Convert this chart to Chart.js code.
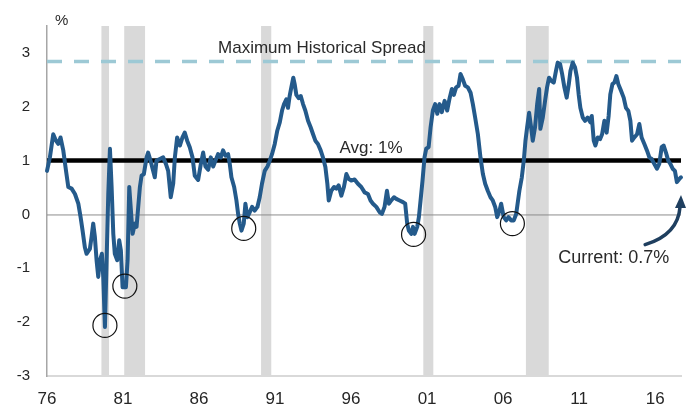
<!DOCTYPE html>
<html>
<head>
<meta charset="utf-8">
<script src="https://cdn.jsdelivr.net/npm/chart.js@4.4.1/dist/chart.umd.min.js"></script>
<style>
  html, body { margin: 0; padding: 0; background: #fff; }
  #wrap { width: 698px; height: 410px; }
</style>
</head>
<body>
<div id="wrap"><canvas id="myChart" width="698" height="410"></canvas></div>
<script>
// 10y-2y spread (decimal years)
const dates = [
  1976.42, 1976.61, 1976.83, 1977.01, 1977.16, 1977.31, 1977.49, 1977.67, 1977.82, 1978.04,
  1978.26, 1978.48, 1978.63, 1978.76, 1978.91, 1979.02, 1979.24, 1979.35, 1979.46, 1979.57,
  1979.68, 1979.79, 1979.90, 1980.03, 1980.12, 1980.23, 1980.34, 1980.45, 1980.56, 1980.67,
  1980.78, 1980.88, 1981.04, 1981.17, 1981.28, 1981.39, 1981.61, 1981.72, 1981.83, 1981.94,
  1982.05, 1982.20, 1982.31, 1982.42, 1982.53, 1982.64, 1982.79, 1982.97, 1983.07, 1983.23,
  1983.40, 1983.51, 1983.62, 1983.84, 1984.06, 1984.24, 1984.39, 1984.56, 1984.72, 1984.83,
  1984.98, 1985.16, 1985.33, 1985.48, 1985.64, 1985.81, 1985.99, 1986.14, 1986.36, 1986.54,
  1986.69, 1986.84, 1987.02, 1987.19, 1987.35, 1987.50, 1987.67, 1987.85, 1988.00, 1988.16,
  1988.33, 1988.44, 1988.55, 1988.73, 1988.88, 1988.99, 1989.10, 1989.21, 1989.36, 1989.47,
  1989.60, 1989.75, 1989.91, 1990.08, 1990.26, 1990.41, 1990.56, 1990.74, 1990.92, 1991.07,
  1991.22, 1991.40, 1991.57, 1991.73, 1991.88, 1992.01, 1992.16, 1992.27, 1992.38, 1992.49,
  1992.62, 1992.71, 1992.82, 1992.97, 1993.11, 1993.26, 1993.41, 1993.59, 1993.76, 1993.92,
  1994.07, 1994.24, 1994.42, 1994.57, 1994.73, 1994.86, 1994.95, 1995.12, 1995.30, 1995.45,
  1995.60, 1995.78, 1995.95, 1996.11, 1996.26, 1996.43, 1996.65, 1996.87, 1997.09, 1997.31,
  1997.53, 1997.70, 1997.86, 1998.08, 1998.30, 1998.45, 1998.62, 1998.78, 1998.91, 1999.06,
  1999.24, 1999.39, 1999.61, 1999.83, 1999.98, 2000.11, 2000.22, 2000.38, 2000.49, 2000.60,
  2000.77, 2000.88, 2000.99, 2001.12, 2001.25, 2001.36, 2001.52, 2001.65, 2001.80, 2001.95,
  2002.09, 2002.24, 2002.39, 2002.57, 2002.74, 2002.90, 2003.05, 2003.18, 2003.33, 2003.49,
  2003.62, 2003.77, 2003.92, 2004.10, 2004.28, 2004.43, 2004.58, 2004.76, 2004.93, 2005.09,
  2005.24, 2005.41, 2005.59, 2005.74, 2005.90, 2006.03, 2006.18, 2006.29, 2006.46, 2006.62,
  2006.77, 2006.95, 2007.12, 2007.28, 2007.49, 2007.65, 2007.78, 2007.89, 2008.00, 2008.13,
  2008.26, 2008.37, 2008.52, 2008.66, 2008.79, 2008.87, 2009.03, 2009.18, 2009.31, 2009.44,
  2009.58, 2009.75, 2009.90, 2010.01, 2010.17, 2010.30, 2010.45, 2010.60, 2010.74, 2010.85,
  2011.00, 2011.15, 2011.28, 2011.39, 2011.50, 2011.66, 2011.81, 2011.98, 2012.16, 2012.25,
  2012.38, 2012.49, 2012.64, 2012.80, 2012.93, 2013.08, 2013.23, 2013.36, 2013.47, 2013.61,
  2013.74, 2013.87, 2014.00, 2014.17, 2014.35, 2014.50, 2014.66, 2014.79, 2014.90, 2015.05,
  2015.23, 2015.38, 2015.53, 2015.71, 2015.88, 2016.04, 2016.19, 2016.36, 2016.54, 2016.69,
  2016.85, 2016.98, 2017.13, 2017.28, 2017.42, 2017.57, 2017.72, 2017.85, 2018.01, 2018.12
];
const spread = [
  0.81, 1.06, 1.49, 1.37, 1.31, 1.43, 1.19, 0.81, 0.51, 0.48,
  0.38, 0.20, -0.05, -0.30, -0.61, -0.73, -0.64, -0.42, -0.17, -0.42,
  -0.85, -1.16, -0.85, -0.73, -1.16, -2.09, -0.85, 0.38, 1.22, 0.51,
  -0.36, -0.73, -0.85, -0.48, -0.67, -1.35, -1.35, -0.85, 0.51, 0.07,
  -0.36, -0.17, -0.23, 0.14, 0.51, 0.72, 0.75, 1.06, 1.15, 1.00,
  0.81, 0.69, 1.00, 1.03, 1.06, 0.94, 0.81, 0.32, 0.57, 1.06,
  1.43, 1.28, 1.43, 1.52, 1.37, 1.25, 1.06, 0.72, 0.64, 0.94,
  1.15, 0.89, 0.83, 1.06, 0.89, 1.00, 1.12, 1.06, 1.19, 1.09,
  1.12, 0.94, 0.69, 0.51, 0.26, 0.01, -0.17, -0.30, -0.17, 0.20,
  -0.05, 0.04, 0.14, 0.07, 0.14, 0.32, 0.57, 0.81, 0.89, 1.00,
  1.12, 1.31, 1.56, 1.71, 1.93, 2.05, 2.14, 1.98, 2.20, 2.36,
  2.54, 2.42, 2.22, 2.16, 2.20, 2.05, 1.93, 1.74, 1.62, 1.49,
  1.37, 1.31, 1.19, 1.06, 0.88, 0.57, 0.26, 0.44, 0.51, 0.48,
  0.54, 0.35, 0.51, 0.75, 0.66, 0.63, 0.65, 0.57, 0.51, 0.41,
  0.38, 0.26, 0.20, 0.14, 0.04, 0.01, 0.14, 0.44, 0.20, 0.26,
  0.32, 0.29, 0.26, 0.23, 0.20, -0.17, -0.30, -0.36, -0.23, -0.36,
  -0.23, -0.05, 0.26, 0.63, 1.06, 1.22, 1.25, 1.62, 1.93, 2.05,
  1.87, 2.05, 1.90, 2.11, 1.93, 2.16, 2.33, 2.22, 2.36, 2.39,
  2.61, 2.51, 2.39, 2.36, 2.26, 2.05, 1.80, 1.49, 1.06, 0.75,
  0.57, 0.44, 0.32, 0.26, 0.14, -0.05, 0.07, 0.20, -0.05, -0.11,
  -0.05, -0.11, -0.11, 0.01, 0.44, 0.69, 1.00, 1.37, 1.62, 1.89,
  1.62, 1.37, 1.62, 2.05, 2.33, 1.59, 1.80, 2.11, 2.36, 2.54,
  2.48, 2.45, 2.67, 2.82, 2.79, 2.61, 2.36, 2.17, 2.42, 2.67,
  2.82, 2.73, 2.54, 2.23, 1.98, 1.80, 1.74, 1.80, 1.71, 1.83,
  1.37, 1.28, 1.43, 1.40, 1.49, 1.74, 1.52, 1.83, 2.23, 2.42,
  2.45, 2.57, 2.42, 2.30, 2.17, 1.98, 1.92, 1.74, 1.37, 1.43,
  1.49, 1.68, 1.43, 1.31, 1.19, 1.06, 1.03, 0.94, 0.85, 0.94,
  1.25, 1.28, 1.15, 1.00, 0.94, 0.85, 0.81, 0.60, 0.66, 0.69
];

const tickYears = [1976.42, 1981.42, 1986.42, 1991.42, 1996.42, 2001.42, 2006.42, 2011.42, 2016.42];
const tickLabels = ['76', '81', '86', '91', '96', '01', '06', '11', '16'];
const yTicks = [-3, -2, -1, 0, 1, 2, 3];

// NBER recessions
const recessionStart = [1980.0, 1981.5, 1990.5, 2001.17, 2007.92];
const recessionEnd = [1980.5, 1982.87, 1991.17, 2001.83, 2009.42];

// circled inversions
const troughDates = [1980.23, 1981.54, 1989.36, 2000.53, 2007.03];
const troughValues = [-2.06, -1.33, -0.26, -0.37, -0.17];

const maxSpread = 2.84;
const avgSpread = 1.0;
const currentSpread = 0.7;

const overlay = {
  id: 'overlay',
  beforeDatasetsDraw(chart) {
    const { ctx, chartArea: a, scales: { x, y } } = chart;
    ctx.save();
    // recession bars
    ctx.fillStyle = '#d9d9d9';
    recessionStart.forEach((s, i) => {
      const x0 = x.getPixelForValue(s);
      const x1 = x.getPixelForValue(recessionEnd[i]);
      ctx.fillRect(x0, a.top, x1 - x0, a.bottom - a.top);
    });
    // zero line
    const y0 = y.getPixelForValue(0);
    ctx.strokeStyle = '#8c8c8c';
    ctx.lineWidth = 1;
    ctx.beginPath();
    ctx.moveTo(a.left, y0 + 0.5);
    ctx.lineTo(a.right, y0 + 0.5);
    ctx.stroke();
    // maximum spread
    const yMax = y.getPixelForValue(maxSpread);
    ctx.strokeStyle = '#9dc9d5';
    ctx.lineWidth = 3.5;
    ctx.setLineDash([15, 12]);
    ctx.beginPath();
    ctx.moveTo(a.left, yMax);
    ctx.lineTo(a.right, yMax);
    ctx.stroke();
    // average
    const yAvg = y.getPixelForValue(avgSpread);
    ctx.setLineDash([]);
    ctx.strokeStyle = '#000';
    ctx.lineWidth = 4.5;
    ctx.beginPath();
    ctx.moveTo(a.left, yAvg);
    ctx.lineTo(a.right, yAvg);
    ctx.stroke();
    ctx.restore();
  },
  afterDatasetsDraw(chart) {
    const { ctx, chartArea: a, scales: { x, y } } = chart;
    ctx.save();
    // circles
    ctx.strokeStyle = '#111';
    ctx.lineWidth = 1.2;
    troughDates.forEach((d, i) => {
      ctx.beginPath();
      ctx.arc(x.getPixelForValue(d), y.getPixelForValue(troughValues[i]), 12, 0, Math.PI * 2);
      ctx.stroke();
    });
    // texts
    ctx.fillStyle = '#2a2a2a';
    ctx.textBaseline = 'alphabetic';
    ctx.textAlign = 'left';
    ctx.font = '15px "Liberation Sans", Arial, sans-serif';
    ctx.fillText('%', a.left + 8, a.top - 1);
    ctx.font = '17px "Liberation Sans", Arial, sans-serif';
    ctx.fillText('Maximum Historical Spread', x.getPixelForValue(1987.67), y.getPixelForValue(maxSpread) - 9);
    ctx.fillText('Avg: ' + Math.round(avgSpread) + '%', x.getPixelForValue(1995.66), y.getPixelForValue(avgSpread) - 8);
    ctx.font = '18px "Liberation Sans", Arial, sans-serif';
    ctx.fillText('Current: ' + currentSpread.toFixed(1) + '%', x.getPixelForValue(2010.04), y.getPixelForValue(-0.91));
    // arrow to the latest value
    const xEnd = x.getPixelForValue(dates[dates.length - 1]);
    const sx = x.getPixelForValue(2015.76), sy = y.getPixelForValue(-0.56);
    const tipY = y.getPixelForValue(0.36);
    ctx.strokeStyle = '#1f3f5f';
    ctx.fillStyle = '#1f3f5f';
    ctx.lineWidth = 3.5;
    ctx.lineCap = 'round';
    ctx.beginPath();
    ctx.moveTo(sx, sy);
    ctx.quadraticCurveTo(xEnd - 3, sy - 10, xEnd - 1, tipY + 12);
    ctx.stroke();
    ctx.beginPath();
    ctx.moveTo(xEnd, tipY);
    ctx.lineTo(xEnd - 6, tipY + 13);
    ctx.lineTo(xEnd + 5, tipY + 13);
    ctx.closePath();
    ctx.fill();
    ctx.restore();
  }
};

new Chart(document.getElementById('myChart'), {
  type: 'line',
  data: {
    datasets: [{
      data: dates.map((d, i) => ({ x: d, y: spread[i] })),
      borderColor: '#245a8b',
      borderWidth: 4,
      pointRadius: 0,
      tension: 0,
      borderJoinStyle: 'round',
      borderCapStyle: 'round',
      clip: false
    }]
  },
  options: {
    responsive: false,
    animation: false,
    devicePixelRatio: 1,
    layout: { padding: { left: 0, right: 17, top: 24, bottom: 0 } },
    plugins: { legend: { display: false }, tooltip: { enabled: false } },
    scales: {
      x: {
        type: 'linear',
        min: 1976.42,
        max: 2018.12,
        afterBuildTicks: (scale) => { scale.ticks = tickYears.map(v => ({ value: v })); },
        afterFit: (scale) => { scale.height = 34; },
        grid: { display: false, drawTicks: false },
        border: { display: true, color: '#d9d9d9', width: 2 },
        ticks: {
          autoSkip: false,
          maxRotation: 0,
          padding: 13,
          color: '#262626',
          font: { family: '"Liberation Sans", Arial, sans-serif', size: 17 },
          callback: (v, i) => tickLabels[i]
        }
      },
      y: {
        min: -3,
        max: 3.5,
        afterBuildTicks: (scale) => { scale.ticks = yTicks.map(v => ({ value: v })); },
        afterFit: (scale) => { scale.width = 47; },
        grid: { display: false, drawTicks: false },
        border: { display: true, color: '#a6a6a6', width: 1.5 },
        ticks: {
          padding: 17,
          color: '#262626',
          font: { family: '"Liberation Sans", Arial, sans-serif', size: 15 },
          callback: (v) => String(v)
        }
      }
    }
  },
  plugins: [overlay]
});
</script>
</body>
</html>
